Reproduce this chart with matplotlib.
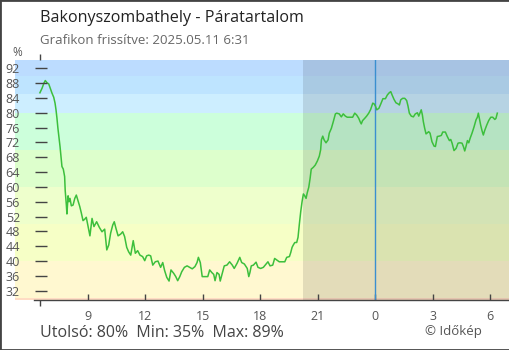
import matplotlib
matplotlib.use("Agg")
import matplotlib.pyplot as plt
from matplotlib.patches import Rectangle

# ---------- Données (heures depuis minuit du 1er jour, humidité %) ----------
hours = [
    6.50, 6.61, 6.71, 6.78, 6.87, 6.96, 7.04, 7.13, 7.22, 7.29, 7.34, 7.39,
    7.44, 7.50, 7.55, 7.60, 7.65, 7.72, 7.79, 7.82, 7.88, 7.91, 7.97, 8.02,
    8.07, 8.14, 8.23, 8.32, 8.40, 8.49, 8.58, 8.66, 8.75, 8.84, 8.92, 9.01,
    9.11, 9.22, 9.32, 9.46, 9.60, 9.74, 9.88, 9.99, 10.09, 10.19, 10.30, 10.38,
    10.47, 10.58, 10.72, 10.82, 10.92, 11.03, 11.13, 11.24, 11.37, 11.48, 11.60, 11.72,
    11.86, 11.97, 12.07, 12.18, 12.28, 12.39, 12.52, 12.66, 12.80, 12.91, 13.01, 13.12,
    13.24, 13.34, 13.48, 13.59, 13.69, 13.80, 13.90, 14.04, 14.18, 14.32, 14.45, 14.59,
    14.70, 14.77, 14.87, 14.97, 15.12, 15.26, 15.36, 15.47, 15.57, 15.64, 15.74, 15.85,
    15.91, 16.02, 16.12, 16.26, 16.40, 16.54, 16.64, 16.79, 16.93, 17.03, 17.17, 17.32,
    17.40, 17.46, 17.53, 17.64, 17.78, 17.88, 18.02, 18.16, 18.30, 18.40, 18.51, 18.65,
    18.75, 18.86, 18.99, 19.13, 19.28, 19.38, 19.52, 19.59, 19.66, 19.72, 19.80, 19.90,
    19.97, 20.04, 20.11, 20.18, 20.25, 20.32, 20.39, 20.45, 20.53, 20.60, 20.66, 20.77,
    20.87, 20.98, 21.08, 21.15, 21.19, 21.26, 21.33, 21.43, 21.54, 21.60, 21.71, 21.81,
    21.92, 21.99, 22.12, 22.23, 22.33, 22.44, 22.54, 22.68, 22.82, 22.93, 23.03, 23.14,
    23.21, 23.27, 23.34, 23.45, 23.55, 23.66, 23.76, 23.87, 23.94, 24.01, 24.08, 24.19,
    24.29, 24.40, 24.53, 24.63, 24.73, 24.81, 24.88, 24.98, 25.08, 25.19, 25.26, 25.33,
    25.43, 25.54, 25.64, 25.71, 25.78, 25.88, 25.99, 26.09, 26.20, 26.27, 26.34, 26.40,
    26.46, 26.51, 26.58, 26.65, 26.72, 26.79, 26.86, 26.96, 27.07, 27.14, 27.24, 27.34,
    27.45, 27.52, 27.66, 27.76, 27.87, 27.94, 28.01, 28.11, 28.22, 28.32, 28.42, 28.53,
    28.60, 28.67, 28.74, 28.81, 28.88, 28.95, 29.05, 29.15, 29.26, 29.33, 29.38, 29.43,
    29.50, 29.57, 29.64, 29.71, 29.82, 29.92, 30.03, 30.13, 30.24, 30.30, 30.37,
]
humidity = [
    85.4, 86.6, 88.0, 88.7, 88.1, 87.8, 86.6, 85.3, 84.2, 82.6, 80.8, 78.5,
    75.8, 73.1, 70.9, 68.2, 65.5, 64.8, 62.8, 59.0, 55.1, 52.7, 57.6, 56.0,
    56.9, 54.9, 55.1, 56.9, 57.8, 56.3, 54.7, 53.0, 50.9, 51.3, 51.8, 49.5,
    46.8, 51.5, 49.3, 50.6, 49.1, 47.9, 48.6, 43.0, 44.3, 47.5, 49.7, 50.6,
    48.8, 46.8, 47.3, 47.9, 46.6, 43.7, 42.5, 41.6, 45.5, 42.1, 42.8, 41.6,
    41.2, 40.1, 41.4, 41.6, 41.4, 38.9, 39.8, 40.0, 38.3, 39.6, 37.4, 35.6,
    34.6, 37.6, 36.7, 35.8, 34.7, 35.8, 37.1, 38.3, 38.7, 38.3, 37.9, 38.5,
    39.6, 41.0, 39.6, 35.8, 35.8, 35.8, 37.6, 36.9, 36.4, 34.7, 36.9, 36.4,
    34.6, 36.7, 38.7, 38.9, 39.8, 38.9, 38.0, 39.4, 41.0, 39.6, 39.2, 38.0,
    35.8, 36.9, 38.7, 38.9, 39.7, 38.3, 38.0, 38.3, 39.2, 39.8, 38.7, 38.9,
    40.7, 40.3, 39.8, 39.8, 39.8, 41.0, 41.2, 42.3, 43.7, 44.3, 45.0, 45.0,
    46.4, 50.0, 53.3, 56.0, 58.1, 57.6, 56.9, 58.4, 59.9, 62.3, 64.8, 65.3,
    65.9, 67.0, 68.3, 70.0, 72.7, 73.7, 72.7, 71.9, 72.7, 74.5, 75.8, 77.6,
    79.7, 79.9, 79.7, 78.9, 79.7, 79.1, 78.8, 78.8, 78.8, 79.9, 79.4, 78.5,
    77.6, 77.0, 77.9, 78.5, 79.1, 79.9, 80.9, 82.6, 82.4, 81.8, 80.8, 81.2,
    82.4, 83.8, 83.8, 84.8, 85.4, 85.7, 84.8, 83.6, 82.7, 82.4, 82.1, 83.5,
    83.9, 83.9, 83.3, 81.8, 79.9, 79.1, 78.9, 79.7, 80.0, 79.1, 80.0, 80.8,
    79.4, 77.6, 75.8, 74.3, 74.6, 74.9, 74.5, 72.2, 71.0, 70.9, 73.6, 73.7,
    73.9, 74.8, 74.8, 73.6, 72.5, 72.8, 71.8, 69.8, 70.4, 71.8, 71.9, 71.8,
    70.9, 69.7, 71.0, 72.5, 71.9, 73.1, 74.5, 76.1, 78.1, 78.8, 79.9, 78.5,
    76.7, 75.2, 74.0, 75.2, 76.7, 77.9, 78.8, 78.8, 78.2, 78.5, 79.9,
]

x_ticks = [9, 12, 15, 18, 21, 24, 27, 30]
x_labels = ["9", "12", "15", "18", "21", "0", "3", "6"]
y_ticks = list(range(32, 93, 4))

# bandes de couleur (bas, haut, couleur)
band_edges = [0, 30, 40, 50, 60, 70, 80, 85, 90, 100]
band_colors = ["#ffdcc4", "#fff8d0", "#f6ffc6", "#eeffcc", "#ddffcc",
               "#ccffdb", "#cdeeff", "#bee4ff", "#bcdcff"]

data_start = 6.52
sunset = 20.23
midnight = 24.0

title = "Bakonyszombathely - Páratartalom"
subtitle = "Grafikon frissítve: 2025.05.11 6:31"
stats = "Utolsó: 80%  Min: 35%  Max: 89%"
credit = "© Időkép"

plt.rcParams["font.family"] = ["Open Sans", "DejaVu Sans"]

W, H = 510, 350
fig = plt.figure(figsize=(W / 100, H / 100), dpi=100)
fig.patch.set_facecolor("white")

# zone de tracé : x 15..509 px, y 60..300 px
ax = fig.add_axes([15 / W, 50 / H, 494 / W, 240 / H])
ax.set_xlim(5.20, 30.98)
ax.set_ylim(29.49, 94.24)

for lo, hi, c in zip(band_edges[:-1], band_edges[1:], band_colors):
    ax.axhspan(lo, hi, color=c, lw=0, zorder=0)

ax.axvspan(sunset, 40, color="black", alpha=0.11, lw=0, zorder=1)
ax.axvline(midnight, color="#3a8fd0", lw=1, zorder=2)

ax.plot(hours, humidity, color="#3cbf3c", lw=1.1, zorder=3)

# petits traits de graduation y (dans la zone)
for yv in y_ticks:
    ax.plot([0.0405, 0.065], [yv, yv], transform=ax.get_yaxis_transform(),
            color="#444444", lw=1, zorder=4, solid_capstyle="butt")

for s in ["top", "right", "left"]:
    ax.spines[s].set_visible(False)
ax.spines["bottom"].set_bounds(6.19, 30.98)
ax.spines["bottom"].set_color("#444444")
ax.spines["bottom"].set_linewidth(1)

ax.set_yticks(y_ticks)
ax.set_yticklabels([str(v) for v in y_ticks])
ax.tick_params(axis="y", length=0, pad=-3.6, labelsize=9, labelcolor="#555555")

ax.set_xticks(x_ticks)
ax.set_xticklabels(x_labels)
ax.tick_params(axis="x", which="major", direction="in", length=4.3, width=1,
               color="#444444", pad=7, labelsize=9, labelcolor="#555555")
ax.set_xticks([data_start], minor=True)
ax.tick_params(axis="x", which="minor", direction="out", length=4.3, width=1,
               color="#444444", top=True, bottom=True)

fig.text(40 / W, 1 - 18 / H, title, fontsize=11.6, color="#222222", va="center")
fig.text(40 / W, 1 - 41 / H, subtitle, fontsize=9.5, color="#666666", va="center")
fig.text(17 / W, 1 - 52 / H, "%", fontsize=8.5, color="#555555", va="center", ha="center")
fig.text(40 / W, 1 - 333 / H, stats, fontsize=11.5, color="#444444", va="center")
fig.text(482 / W, 1 - 332 / H, credit, fontsize=9.5, color="#555555", va="center", ha="right")

fig.add_artist(Rectangle((0, 0), 1, 1, transform=fig.transFigure, fill=False,
                         ec="#444444", lw=2))

fig.savefig("out.png", dpi=100)
